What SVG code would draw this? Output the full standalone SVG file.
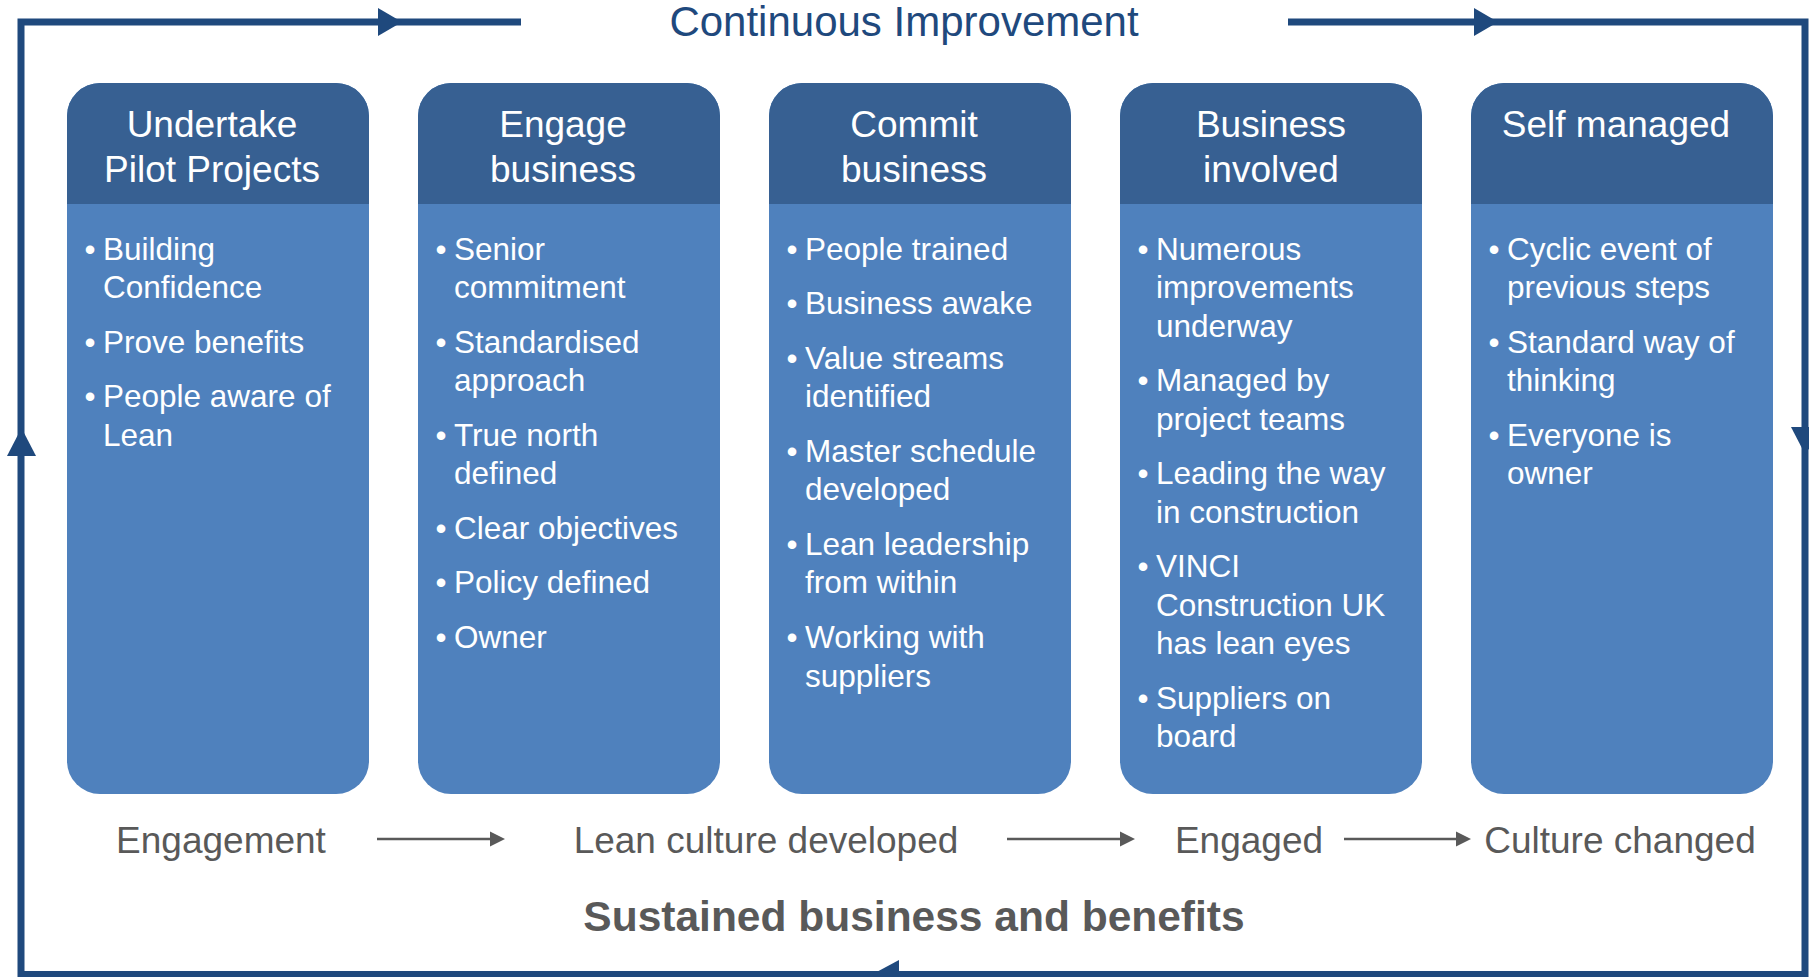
<svg xmlns="http://www.w3.org/2000/svg" width="1809" height="977" viewBox="0 0 1809 977">
<style>
.frame{fill:none;stroke:#1F497D;stroke-width:7;stroke-linejoin:miter}
.fhead{fill:#1F497D}
.body{fill:#4F81BD}
.head{fill:#376092}
.ht{font-family:"Liberation Sans",Arial,sans-serif;font-size:37px;fill:#FFFFFF;text-anchor:middle}
.bt{font-family:"Liberation Sans",Arial,sans-serif;font-size:31.5px;fill:#FFFFFF}
.bl{font-family:"Liberation Sans",Arial,sans-serif;font-size:31.5px;fill:#FFFFFF;text-anchor:middle}
.gt{font-family:"Liberation Sans",Arial,sans-serif;font-size:37px;fill:#595959;text-anchor:middle}
.ga{stroke:#595959;stroke-width:2.5;fill:none}
.gh{fill:#595959}
</style>
<rect width="1809" height="977" fill="#FFFFFF"/>
<g id="connectors">
  <polyline class="frame" points="521,22 21,22 21,974.5 1805,974.5 1805,22 1288,22"/>
  <polygon class="fhead" points="378,8 402,22 378,36"/>
  <polygon class="fhead" points="1474,8 1498,22 1474,36"/>
  <polygon class="fhead" points="7,456 21.5,428 36,456"/>
  <polygon class="fhead" points="1791,427 1805.5,455 1820,427"/>
  <polygon class="fhead" points="899,960 872,974.5 899,989"/>
  <line class="ga" x1="377" y1="839" x2="492" y2="839"/>
  <polygon class="gh" points="490,831.5 505,839 490,846.5"/>
  <line class="ga" x1="1007" y1="839" x2="1122" y2="839"/>
  <polygon class="gh" points="1120,831.5 1135,839 1120,846.5"/>
  <line class="ga" x1="1344" y1="839" x2="1458" y2="839"/>
  <polygon class="gh" points="1456,831.5 1471,839 1456,846.5"/>
</g>
<text x="904" y="36" font-family="'Liberation Sans',Arial,sans-serif" font-size="42" fill="#1F497D" text-anchor="middle">Continuous Improvement</text>
<g id="box1">
  <rect class="body" x="67" y="83" width="302" height="711" rx="33"/>
  <path class="head" d="M67,204 V116 A33,33 0 0 1 100,83 H336 A33,33 0 0 1 369,116 V204 Z"/>
  <text class="ht" x="212" y="137">Undertake</text>
  <text class="ht" x="212" y="182">Pilot Projects</text>
  <text class="bl" x="90" y="259.5">•</text><text class="bt" x="103" y="259.5">Building</text>
  <text class="bt" x="103" y="298">Confidence</text>
  <text class="bl" x="90" y="352.6">•</text><text class="bt" x="103" y="352.6">Prove benefits</text>
  <text class="bl" x="90" y="407.2">•</text><text class="bt" x="103" y="407.2">People aware of</text>
  <text class="bt" x="103" y="445.7">Lean</text>
</g>
<g id="box2">
  <rect class="body" x="418" y="83" width="302" height="711" rx="33"/>
  <path class="head" d="M418,204 V116 A33,33 0 0 1 451,83 H687 A33,33 0 0 1 720,116 V204 Z"/>
  <text class="ht" x="563" y="137">Engage</text>
  <text class="ht" x="563" y="182">business</text>
  <text class="bl" x="441" y="259.5">•</text><text class="bt" x="454" y="259.5">Senior</text>
  <text class="bt" x="454" y="298">commitment</text>
  <text class="bl" x="441" y="352.6">•</text><text class="bt" x="454" y="352.6">Standardised</text>
  <text class="bt" x="454" y="391.1">approach</text>
  <text class="bl" x="441" y="445.7">•</text><text class="bt" x="454" y="445.7">True north</text>
  <text class="bt" x="454" y="484.2">defined</text>
  <text class="bl" x="441" y="538.8">•</text><text class="bt" x="454" y="538.8">Clear objectives</text>
  <text class="bl" x="441" y="593.4">•</text><text class="bt" x="454" y="593.4">Policy defined</text>
  <text class="bl" x="441" y="648">•</text><text class="bt" x="454" y="648">Owner</text>
</g>
<g id="box3">
  <rect class="body" x="769" y="83" width="302" height="711" rx="33"/>
  <path class="head" d="M769,204 V116 A33,33 0 0 1 802,83 H1038 A33,33 0 0 1 1071,116 V204 Z"/>
  <text class="ht" x="914" y="137">Commit</text>
  <text class="ht" x="914" y="182">business</text>
  <text class="bl" x="792" y="259.5">•</text><text class="bt" x="805" y="259.5">People trained</text>
  <text class="bl" x="792" y="314.1">•</text><text class="bt" x="805" y="314.1">Business awake</text>
  <text class="bl" x="792" y="368.7">•</text><text class="bt" x="805" y="368.7">Value streams</text>
  <text class="bt" x="805" y="407.2">identified</text>
  <text class="bl" x="792" y="461.8">•</text><text class="bt" x="805" y="461.8">Master schedule</text>
  <text class="bt" x="805" y="500.3">developed</text>
  <text class="bl" x="792" y="554.9">•</text><text class="bt" x="805" y="554.9">Lean leadership</text>
  <text class="bt" x="805" y="593.4">from within</text>
  <text class="bl" x="792" y="648">•</text><text class="bt" x="805" y="648">Working with</text>
  <text class="bt" x="805" y="686.5">suppliers</text>
</g>
<g id="box4">
  <rect class="body" x="1120" y="83" width="302" height="711" rx="33"/>
  <path class="head" d="M1120,204 V116 A33,33 0 0 1 1153,83 H1389 A33,33 0 0 1 1422,116 V204 Z"/>
  <text class="ht" x="1271" y="137">Business</text>
  <text class="ht" x="1271" y="182">involved</text>
  <text class="bl" x="1143" y="259.5">•</text><text class="bt" x="1156" y="259.5">Numerous</text>
  <text class="bt" x="1156" y="298">improvements</text>
  <text class="bt" x="1156" y="336.5">underway</text>
  <text class="bl" x="1143" y="391.1">•</text><text class="bt" x="1156" y="391.1">Managed by</text>
  <text class="bt" x="1156" y="429.6">project teams</text>
  <text class="bl" x="1143" y="484.2">•</text><text class="bt" x="1156" y="484.2">Leading the way</text>
  <text class="bt" x="1156" y="522.7">in construction</text>
  <text class="bl" x="1143" y="577.3">•</text><text class="bt" x="1156" y="577.3">VINCI</text>
  <text class="bt" x="1156" y="615.8">Construction UK</text>
  <text class="bt" x="1156" y="654.3">has lean eyes</text>
  <text class="bl" x="1143" y="708.9">•</text><text class="bt" x="1156" y="708.9">Suppliers on</text>
  <text class="bt" x="1156" y="747.4">board</text>
</g>
<g id="box5">
  <rect class="body" x="1471" y="83" width="302" height="711" rx="33"/>
  <path class="head" d="M1471,204 V116 A33,33 0 0 1 1504,83 H1740 A33,33 0 0 1 1773,116 V204 Z"/>
  <text class="ht" x="1616" y="137">Self managed</text>
  <text class="bl" x="1494" y="259.5">•</text><text class="bt" x="1507" y="259.5">Cyclic event of</text>
  <text class="bt" x="1507" y="298">previous steps</text>
  <text class="bl" x="1494" y="352.6">•</text><text class="bt" x="1507" y="352.6">Standard way of</text>
  <text class="bt" x="1507" y="391.1">thinking</text>
  <text class="bl" x="1494" y="445.7">•</text><text class="bt" x="1507" y="445.7">Everyone is</text>
  <text class="bt" x="1507" y="484.2">owner</text>
</g>
<g id="stages">
  <text class="gt" x="221" y="853">Engagement</text>
  <text class="gt" x="766" y="853">Lean culture developed</text>
  <text class="gt" x="1249" y="853">Engaged</text>
  <text class="gt" x="1620" y="853">Culture changed</text>
</g>
<text x="914" y="931" font-family="'Liberation Sans',Arial,sans-serif" font-size="42.5" font-weight="bold" fill="#595959" text-anchor="middle">Sustained business and benefits</text>
</svg>
